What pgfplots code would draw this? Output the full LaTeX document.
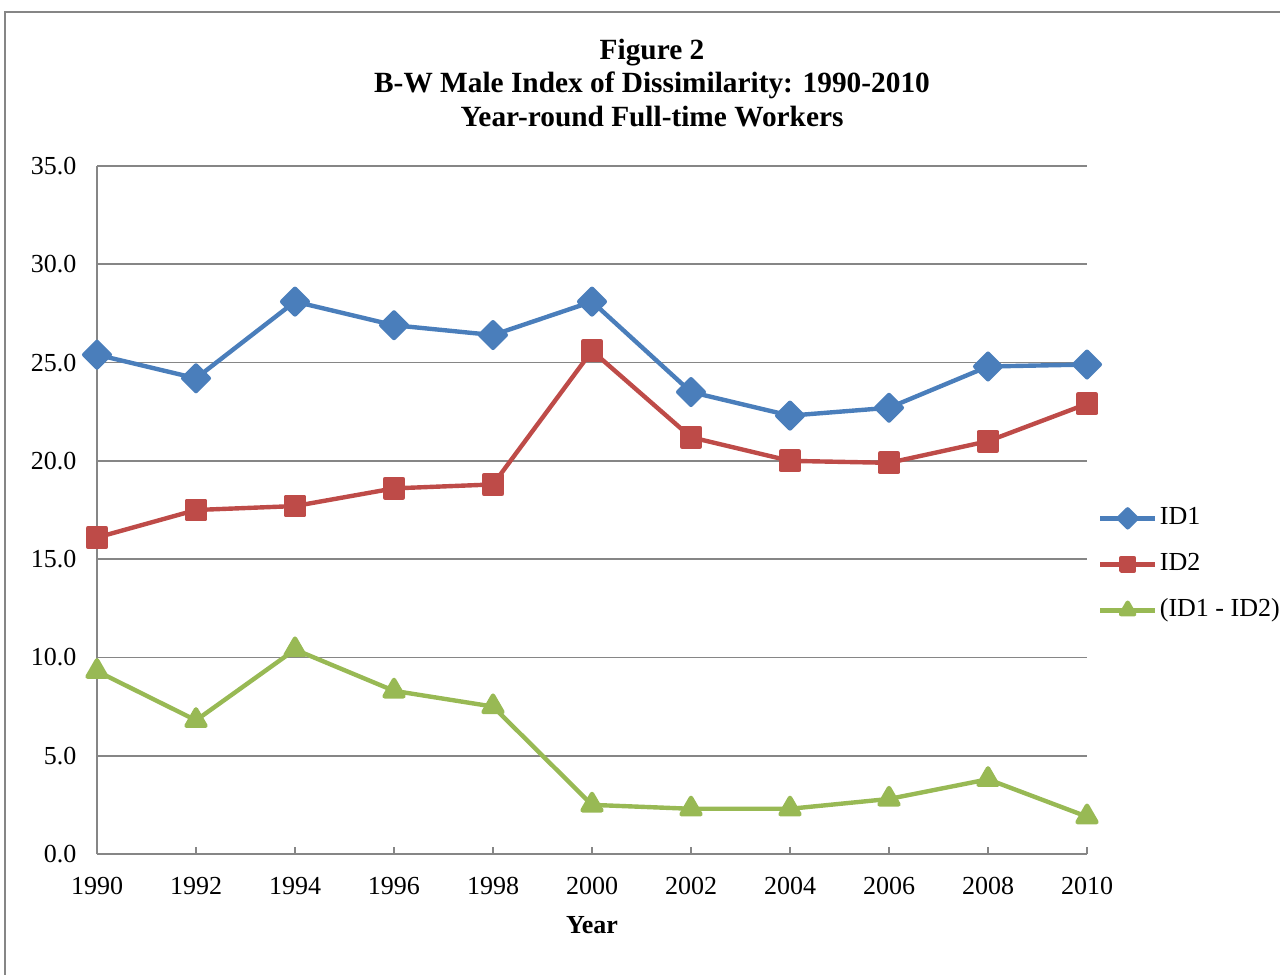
\documentclass[border=0pt]{standalone}
\usepackage{pgfplots}
\pgfplotsset{compat=1.18}
\usepackage{fontspec}
\setmainfont{Liberation Serif}
\definecolor{cBlue}{RGB}{74,126,187}
\definecolor{cRed}{RGB}{190,75,72}
\definecolor{cGreen}{RGB}{152,185,84}
\definecolor{cGrid}{RGB}{134,134,134}
\begin{document}
\begin{tikzpicture}[x=0.75pt,y=0.75pt]
\useasboundingbox (0,0) rectangle (1280,974);
\draw[cGrid, line width=1pt] (5,-20) -- (5,962) -- (1300,962);
\node[font=\bfseries\fontsize{22}{26}\selectfont, anchor=base] at (652,914) {Figure 2};
\node[font=\bfseries\fontsize{22}{26}\selectfont, anchor=base] at (652,881) {B-W Male Index of Dissimilarity: 1990-2010};
\node[font=\bfseries\fontsize{22}{26}\selectfont, anchor=base] at (652,847) {Year-round Full-time Workers};
\begin{axis}[
  at={(72.75pt,90pt)}, anchor=south west,
  scale only axis, width=742.5pt, height=516pt,
  xmin=1990, xmax=2010, ymin=0, ymax=35,
  clip=false,
  axis x line*=bottom, axis y line*=left,
  axis line style={cGrid, line width=1.2pt, -},
  xtick={1990,1992,...,2010},
  ytick={0,5,...,35},
  ymajorgrids,
  major grid style={cGrid, line width=1.2pt},
  tick align=inside,
  major tick length=5.25pt,
  xtick style={cGrid, line width=1.2pt},
  ytick style={draw=none},
  /pgf/number format/assume math mode=true,
  x tick label style={font=\fontsize{19.5}{23}\selectfont, /pgf/number format/1000 sep={}, yshift=-14pt},
  y tick label style={font=\fontsize{19.5}{23}\selectfont, /pgf/number format/.cd, fixed, fixed zerofill, precision=1, /tikz/.cd, xshift=-12pt},
  xlabel={Year},
  every axis x label/.style={at={(axis description cs:0.5,0)}, anchor=base, yshift=-59.25pt, font=\bfseries\fontsize{19.5}{23}\selectfont},
  legend style={at={(axis description cs:1.011,0.421)}, anchor=west, draw=none, fill=none,
    font=\fontsize{19.5}{23}\selectfont, row sep=13pt, inner sep=0pt,
    nodes={inner sep=2pt, text height=13pt, text depth=4.5pt}},
  legend cell align=left,
  legend image code/.code={\draw[mark repeat=2,mark phase=2,#1] plot coordinates {(0pt,0pt) (20.5pt,0pt) (41pt,0pt)};},
  every legend image post/.style={/tikz/every mark/.append style={scale=0.7}},
  every axis plot/.append style={line width=3.3pt, line join=round},
]
\addplot[cBlue, mark=square*, mark size=6.8pt, mark options={rotate=45}] coordinates {
(1990,25.4) (1992,24.2) (1994,28.1) (1996,26.9) (1998,26.4) (2000,28.1)
(2002,23.5) (2004,22.3) (2006,22.7) (2008,24.8) (2010,24.9)};
\addlegendentry{ID1}
\addplot[cRed, mark=square*, mark size=6.9pt] coordinates {
(1990,16.1) (1992,17.5) (1994,17.7) (1996,18.6) (1998,18.8) (2000,25.6)
(2002,21.2) (2004,20.0) (2006,19.9) (2008,21.0) (2010,22.9)};
\addlegendentry{ID2}
\addplot[cGreen, mark=triangle*, mark size=8.2pt] coordinates {
(1990,9.3) (1992,6.8) (1994,10.4) (1996,8.3) (1998,7.5) (2000,2.5)
(2002,2.3) (2004,2.3) (2006,2.8) (2008,3.8) (2010,1.9)};
\addlegendentry{(ID1 - ID2)}
\end{axis}
\end{tikzpicture}
\end{document}
